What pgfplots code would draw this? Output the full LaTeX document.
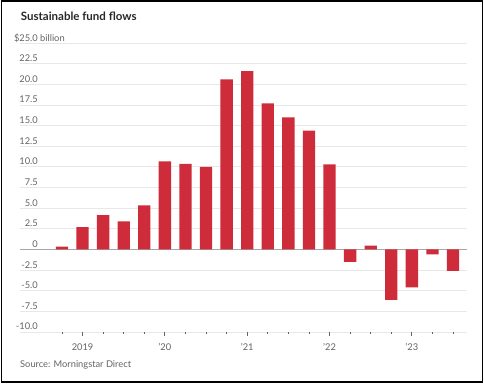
\documentclass[border=0pt]{standalone}
\usepackage{pgfplots}
\pgfplotsset{compat=1.18}
\usepackage{fontspec}
\setmainfont{Lato}
\definecolor{barred}{RGB}{206,44,58}
\definecolor{gridc}{RGB}{232,232,232}
\definecolor{txt}{RGB}{100,100,100}
\definecolor{ttl}{RGB}{40,40,40}
\begin{document}
\begin{tikzpicture}
\useasboundingbox (0,0) rectangle (484bp,384bp);
\fill[white] (0,0) rectangle (484bp,384bp);
\begin{axis}[
  at={(20bp,52bp)}, anchor=south west,
  scale only axis, width=447bp, height=289bp,
  xmin=-2.04, xmax=19.68, ymin=-10, ymax=25,
  axis line style={draw=none},
  ymajorgrids, grid style={gridc, line width=0.8bp},
  ytick={-10,-7.5,-5,-2.5,0,2.5,5,7.5,10,12.5,15,17.5,20,22.5,25},
  yticklabels={-10.0,-7.5,-5.0,-2.5,0,2.5,5.0,7.5,10.0,12.5,15.0,17.5,20.0,22.5,{\$25.0\rlap{ billion}}},
  ytick style={draw=none},
  yticklabel style={anchor=base east, inner sep=0pt, xshift=22bp, yshift=2bp, font=\fontsize{9.3bp}{10bp}\selectfont, text=txt},
  /pgf/number format/assume math mode=true,
  xtick pos=bottom, ytick pos=left,
  xtick={1,5,9,13,17},
  xticklabels={2019,'20,'21,'22,'23},
  minor xtick={0,2,3,4,6,7,8,10,11,12,14,15,16,18,19},
  tick align=outside,
  major tick length=4bp, minor tick length=2.5bp,
  xtick style={draw=txt, line width=0.8bp},
  minor tick style={draw=txt, line width=0.8bp},
  xticklabel style={anchor=base, inner sep=0pt, yshift=-14.7bp, font=\fontsize{9.3bp}{10bp}\selectfont, text=txt},
  clip=false,
]
\draw[gray!70, line width=1bp] (axis cs:-2.04,0) -- (axis cs:19.68,0);
\addplot[ybar, bar width=0.6, fill=barred, draw=none] coordinates {
(0,0.35) (1,2.7) (2,4.15) (3,3.4) (4,5.35) (5,10.65) (6,10.35) (7,10.0)
(8,20.6) (9,21.6) (10,17.7) (11,16.0) (12,14.4) (13,10.3)
(14,-1.5) (15,0.45) (16,-6.1) (17,-4.6) (18,-0.6) (19,-2.6)
};
\end{axis}
\node[anchor=base west, inner sep=0pt, text=ttl, font=\fontsize{11.5bp}{13bp}\selectfont\bfseries] at (20.7bp,363.3bp) {Sustainable fund flows};
\node[anchor=base west, inner sep=0pt, text=txt, font=\fontsize{9.3bp}{10bp}\selectfont] at (20bp,16.3bp) {Source: Morningstar Direct};
\draw[black, line width=1.3bp] (1.5bp,2bp) rectangle (482.5bp,383bp);
\end{tikzpicture}
\end{document}
